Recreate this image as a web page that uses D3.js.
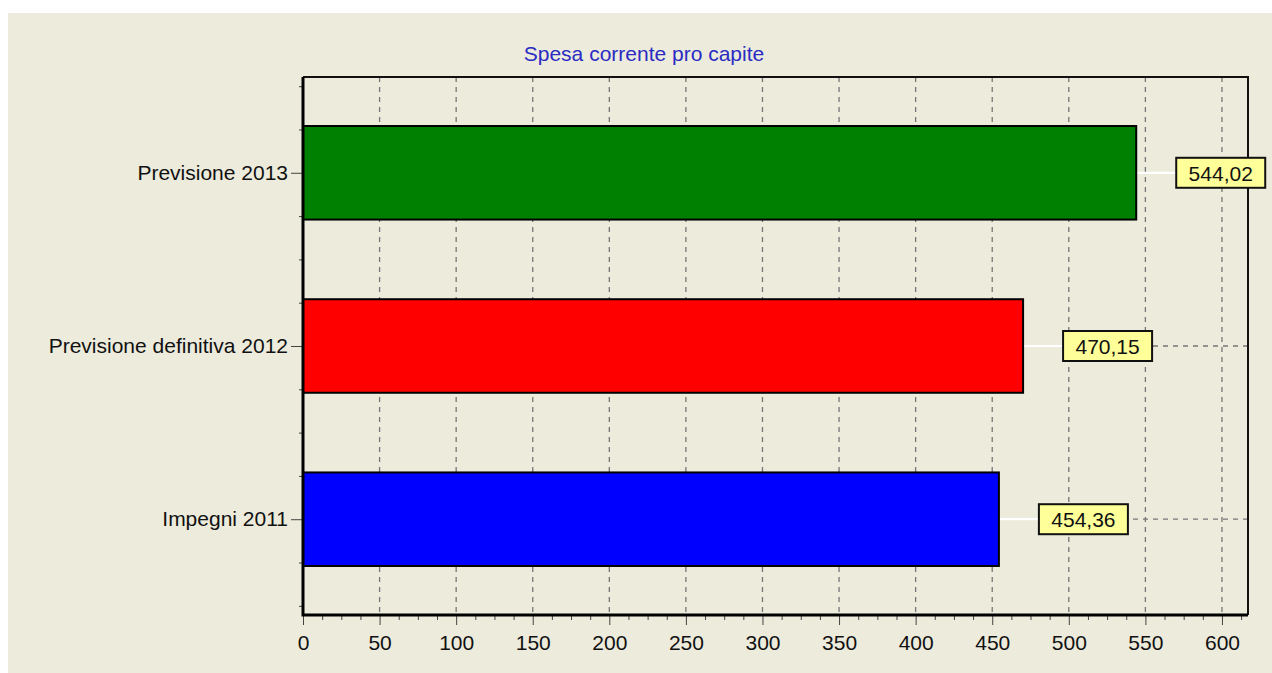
<!DOCTYPE html>
<html>
<head>
<meta charset="utf-8">
<script src="https://cdn.jsdelivr.net/npm/d3@7"></script>
<style>
  body { margin: 0; background: #ffffff; }
  text { font-family: "Liberation Sans", Arial, sans-serif; }
</style>
</head>
<body>
<div id="chart"></div>
<script>
// data
var categories = ["Previsione 2013", "Previsione definitiva 2012", "Impegni 2011"];
var values = [544.02, 470.15, 454.36];
var barColors = ["#008000", "#ff0000", "#0000ff"];
var xTicks = [0, 50, 100, 150, 200, 250, 300, 350, 400, 450, 500, 550, 600];
var chartTitle = "Spesa corrente pro capite";

var W = 1272, H = 673;
var margin = { left: 303, right: 24, top: 77, bottom: 58 };
var plotW = W - margin.left - margin.right;
var plotH = H - margin.top - margin.bottom;

var itFormat = d3.formatLocale({ decimal: ",", thousands: ".", grouping: [3], currency: ["€", ""] }).format(".2f");

var svg = d3.select("#chart").append("svg")
    .attr("width", W)
    .attr("height", H);

// panel background
svg.append("rect")
    .attr("x", 8).attr("y", 13)
    .attr("width", W - 8).attr("height", H - 13)
    .attr("fill", "#ecebdc");

svg.append("text")
    .attr("x", 644).attr("y", 61)
    .attr("text-anchor", "middle")
    .attr("font-size", "21px")
    .attr("fill", "#2b2bc4")
    .text(chartTitle);

var g = svg.append("g")
    .attr("transform", "translate(" + margin.left + "," + margin.top + ")");

var x = d3.scaleLinear().domain([0, 617]).range([0, plotW]);
// categories sit at 1, 2, 3 on a continuous scale
var y = d3.scaleLinear().domain([0.447, 3.553]).range([0, plotH]);
var pos = function(d, i) { return y(i + 1); };
var half = 0.27;

// vertical grid
g.selectAll(".vgrid").data(xTicks.slice(1)).enter()
    .append("line")
    .attr("class", "vgrid")
    .attr("x1", d => x(d)).attr("x2", d => x(d))
    .attr("y1", 0).attr("y2", plotH)
    .attr("stroke", "#767676")
    .attr("stroke-width", 1.3)
    .attr("stroke-dasharray", "5,5");

// horizontal grid at categories
g.selectAll(".hgrid").data(categories).enter()
    .append("line")
    .attr("class", "hgrid")
    .attr("x1", 0).attr("x2", plotW)
    .attr("y1", pos).attr("y2", pos)
    .attr("stroke", "#767676")
    .attr("stroke-width", 1.3)
    .attr("stroke-dasharray", "5,5");

// white leader lines from bar end to label
g.selectAll(".leader").data(values).enter()
    .append("line")
    .attr("x1", d => x(d)).attr("x2", d => x(d) + 40)
    .attr("y1", pos).attr("y2", pos)
    .attr("stroke", "#ffffff")
    .attr("stroke-width", 2.2);

// bars
g.selectAll(".bar").data(values).enter()
    .append("rect")
    .attr("class", "bar")
    .attr("x", x(0))
    .attr("y", (d, i) => y(i + 1 - half))
    .attr("width", d => x(d) - x(0))
    .attr("height", y(1 + half) - y(1 - half))
    .attr("fill", (d, i) => barColors[i])
    .attr("stroke", "#000")
    .attr("stroke-width", 2);

// axes
var xMinor = d3.range(0, 617, 12.5).filter(d => d % 50 !== 0);
g.append("g")
    .attr("transform", "translate(0," + plotH + ")")
    .call(d3.axisBottom(x).tickValues(xMinor).tickSize(5).tickFormat(""))
    .call(a => a.select(".domain").remove());

var xAxis = g.append("g")
    .attr("transform", "translate(0," + plotH + ")")
    .call(d3.axisBottom(x).tickValues(xTicks).tickSize(10).tickPadding(10).tickFormat(d3.format("d")));
xAxis.select(".domain").remove();
xAxis.selectAll("text").attr("font-size", "21px").attr("fill", "#111").style("font-family", "Liberation Sans, Arial");

var yMinor = d3.range(0.5, 3.6, 0.25).filter(d => d % 1 !== 0);
g.append("g")
    .call(d3.axisLeft(y).tickValues(yMinor).tickSize(4).tickFormat(""))
    .call(a => a.select(".domain").remove());

var yAxis = g.append("g")
    .call(d3.axisLeft(y).tickValues([1, 2, 3]).tickSize(12).tickPadding(3)
        .tickFormat(d => categories[d - 1]));
yAxis.select(".domain").remove();
yAxis.selectAll("text").attr("font-size", "21px").attr("fill", "#111").style("font-family", "Liberation Sans, Arial");
g.selectAll(".tick line").attr("stroke", "#444");

// frame
g.append("path")
    .attr("d", "M0,0H" + plotW + "V" + plotH)
    .attr("fill", "none").attr("stroke", "#111").attr("stroke-width", 2);
g.append("path")
    .attr("d", "M0,0V" + plotH + "H" + plotW)
    .attr("fill", "none").attr("stroke", "#000").attr("stroke-width", 3);

// value labels
var lab = g.selectAll(".vlabel").data(values).enter()
    .append("g")
    .attr("class", "vlabel")
    .attr("transform", (d, i) => "translate(" + (x(d) + 40) + "," + pos(d, i) + ")");
lab.append("rect")
    .attr("x", 0).attr("y", -15)
    .attr("width", 89).attr("height", 30)
    .attr("fill", "#ffff99")
    .attr("stroke", "#111")
    .attr("stroke-width", 2);
lab.append("text")
    .attr("x", 44.5).attr("y", 8)
    .attr("text-anchor", "middle")
    .attr("font-size", "21px")
    .attr("fill", "#111")
    .text(d => itFormat(d));
</script>
</body>
</html>
